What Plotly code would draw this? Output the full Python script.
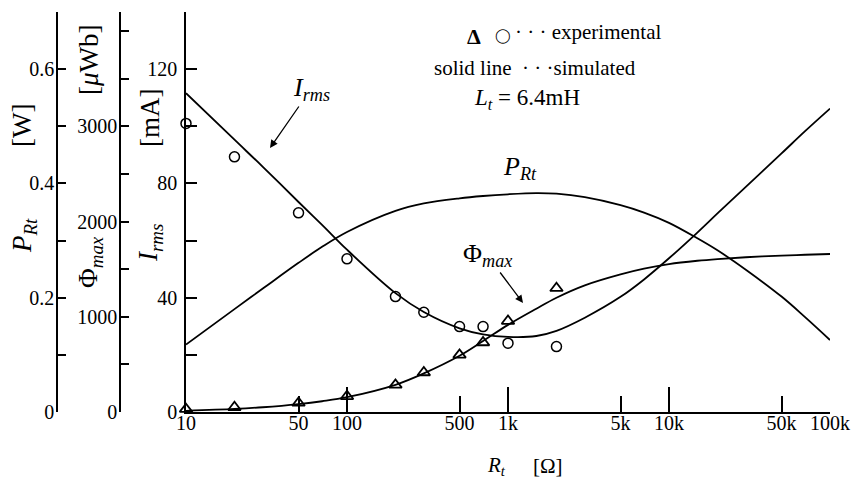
import plotly.graph_objects as go

# Load resistance sweep R_t [Ω] for the simulated curves
r_sim = [10, 20, 30, 50, 70, 100, 200, 300, 500, 700, 1000, 1500, 2000,
         3000, 5000, 7000, 10000, 15000, 20000, 30000, 50000, 70000, 100000]
# Simulated RMS current [mA]
irms_sim = [111.6, 95.3, 85.8, 73.5, 65.5, 56.8, 41.6, 35.0, 29.3, 27.2, 26.3, 26.6, 28.4,
            33.0, 40.3, 46.4, 53.8, 62.8, 69.5, 78.8, 90.5, 98.3, 106.2]
# Simulated load power [W]
p_sim = [0.118, 0.180, 0.216, 0.261, 0.289, 0.315, 0.352, 0.365, 0.374, 0.378, 0.381, 0.383, 0.382,
         0.376, 0.362, 0.349, 0.331, 0.304, 0.283, 0.249, 0.202, 0.166, 0.126]
# Simulated peak flux [μWb]
phi_sim = [12, 32, 50, 83, 113, 155, 285, 405, 590, 745, 915, 1085, 1200,
           1330, 1445, 1505, 1553, 1588, 1606, 1625, 1642, 1651, 1659]

# Measured points
r_exp = [10, 20, 50, 100, 200, 300, 500, 700, 1000, 2000]
irms_exp = [101.0, 89.3, 69.7, 53.6, 40.4, 34.9, 29.9, 29.9, 24.1, 22.9]
phi_exp = [30, 50, 95, 165, 285, 415, 600, 730, 955, 1300]

# Axis ticks
x_ticks = [10, 50, 100, 500, 1000, 5000, 10000, 50000, 100000]
x_labels = ["10", "50", "100", "500", "1k", "5k", "10k", "50k", "100k"]
x_decades = [10, 100, 1000, 10000, 100000]
i_ticks = [0, 20, 40, 60, 80, 100, 120, 140]
i_labels = ["0", "", "40", "", "80", "", "120", ""]
phi_ticks = [0, 500, 1000, 1500, 2000, 2500, 3000, 3500, 4000]
phi_labels = ["0", "", "1000", "", "2000", "", "3000", "", ""]
p_ticks = [0, 0.1, 0.2, 0.3, 0.4, 0.5, 0.6, 0.7]
p_labels = ["0", "", "0.2", "", "0.4", "", "0.6", ""]

W, H = 853, 478
ML, MR, MT, MB = 0, 23, 12, 66
PW, PH = W - ML - MR, H - MT - MB
X0 = 186  # left edge of the main plotting area


def px(x):
    return (x - ML) / PW


def py(y):
    return (H - MB - y) / PH


SERIF = "Liberation Serif"
INK = "black"
LW = 1.8

fig = go.Figure()

line_style = dict(color=INK, width=LW, shape="spline", smoothing=1.0)
fig.add_trace(go.Scatter(x=r_sim, y=irms_sim, mode="lines", line=line_style,
                         xaxis="x", yaxis="y", cliponaxis=False))
fig.add_trace(go.Scatter(x=r_sim, y=p_sim, mode="lines", line=line_style,
                         xaxis="x", yaxis="y3", cliponaxis=False))
fig.add_trace(go.Scatter(x=r_sim, y=phi_sim, mode="lines", line=line_style,
                         xaxis="x", yaxis="y2", cliponaxis=False))
fig.add_trace(go.Scatter(x=r_exp, y=irms_exp, mode="markers",
                         marker=dict(symbol="circle-open", size=10, color=INK,
                                     line=dict(width=1.5, color=INK)),
                         xaxis="x", yaxis="y", cliponaxis=False))
fig.add_trace(go.Scatter(x=r_exp, y=phi_exp, mode="markers",
                         marker=dict(symbol="triangle-up-open", size=11, color=INK,
                                     line=dict(width=1.8, color=INK)),
                         xaxis="x", yaxis="y2", cliponaxis=False))
# carrier trace for the decade tick axis
fig.add_trace(go.Scatter(x=[10, 100000], y=[None, None], mode="lines",
                         xaxis="x2", yaxis="y", hoverinfo="skip"))

tick_font = dict(family=SERIF, size=20, color=INK)
common_y = dict(showgrid=False, zeroline=False, showline=True, linecolor=INK,
                linewidth=1.6, ticks="inside", tickcolor=INK, tickwidth=1.5,
                tickmode="array", tickfont=tick_font, automargin=False)

fig.update_layout(
    width=W, height=H,
    margin=dict(l=ML, r=MR, t=MT, b=MB, pad=0),
    template="none",
    paper_bgcolor="white", plot_bgcolor="white",
    showlegend=False,
    xaxis=dict(type="log", range=[1, 5], domain=[px(X0), 1], anchor="y",
               showgrid=False, zeroline=False, showline=True, linecolor=INK,
               linewidth=1.8, ticks="inside", ticklen=16, tickwidth=1.5,
               tickcolor=INK, tickmode="array", tickvals=x_ticks,
               ticktext=x_labels, tickfont=tick_font, automargin=False,
               ticklabelstandoff=-8),
    xaxis2=dict(type="log", range=[1, 5], domain=[px(X0), 1], anchor="y",
                overlaying="x", showgrid=False, zeroline=False, showline=False,
                ticks="inside", ticklen=25, tickwidth=1.5, tickcolor=INK,
                tickmode="array", tickvals=x_decades, showticklabels=False,
                automargin=False),
    yaxis=dict(range=[0, 140], anchor="x", tickvals=i_ticks, ticktext=i_labels,
               ticklen=11, ticklabelstandoff=3, **common_y),
    yaxis2=dict(range=[0, 4200], anchor="free", overlaying="y", side="left",
                position=px(120), tickvals=phi_ticks, ticktext=phi_labels,
                ticklen=8, ticklabelstandoff=-2, **common_y),
    yaxis3=dict(range=[0, 0.7], anchor="free", overlaying="y", side="left",
                position=px(57), tickvals=p_ticks, ticktext=p_labels,
                ticklen=8, ticklabelstandoff=-2, **common_y),
)

ann = []


def label(x, y, text, angle=0, xanchor="center", size=21, family=SERIF):
    ann.append(dict(x=px(x), y=py(y), xref="paper", yref="paper", text=text,
                    showarrow=False, textangle=angle, xanchor=xanchor,
                    yanchor="middle", font=dict(family=family, size=size, color=INK)))


# Rotated axis titles
TS = 27
label(22, 126, "[W]", -90, size=TS)
label(24, 236, "<i>P</i><sub><i>Rt</i></sub>", -90, size=TS)
label(89, 60, "[<i>μ</i>Wb]", -90, size=TS)
label(90, 262, "Φ<sub><i>max</i></sub>", -90, size=TS)
label(150, 118, "[mA]", -90, size=TS)
label(150, 243, "<i>I</i><sub><i>rms</i></sub>", -90, size=TS)

# x-axis title
label(496, 466, "<i>R</i><sub><i>t</i></sub>")
label(548, 466, "[Ω]")

# Key text
label(474, 36, "<b>Δ</b>", size=22)
label(503, 35, "◯", size=14, family="DejaVu Sans")
label(513, 32, "· · · experimental", xanchor="left")
label(432, 68, "solid line  · · ·simulated", xanchor="left")
label(472, 99, "<i>L</i><sub><i>t</i></sub> = 6.4mH", xanchor="left", size=23)

# Curve labels
label(520, 168, "<i>P</i><sub><i>Rt</i></sub>", size=26)


def arrow_label(hx, hy, tx, ty, text):
    ann.append(dict(x=px(hx), y=py(hy), xref="paper", yref="paper", text=text,
                    showarrow=True, ax=tx - hx, ay=ty - hy, arrowhead=2,
                    arrowsize=1.2, arrowwidth=1.3, arrowcolor=INK,
                    font=dict(family=SERIF, size=26, color=INK)))


arrow_label(270, 148, 311, 89, "<i>I</i><sub><i>rms</i></sub>")
arrow_label(523, 303, 487, 255, "Φ<sub><i>max</i></sub>")

fig.update_layout(annotations=ann)
fig.write_html("out.html")
